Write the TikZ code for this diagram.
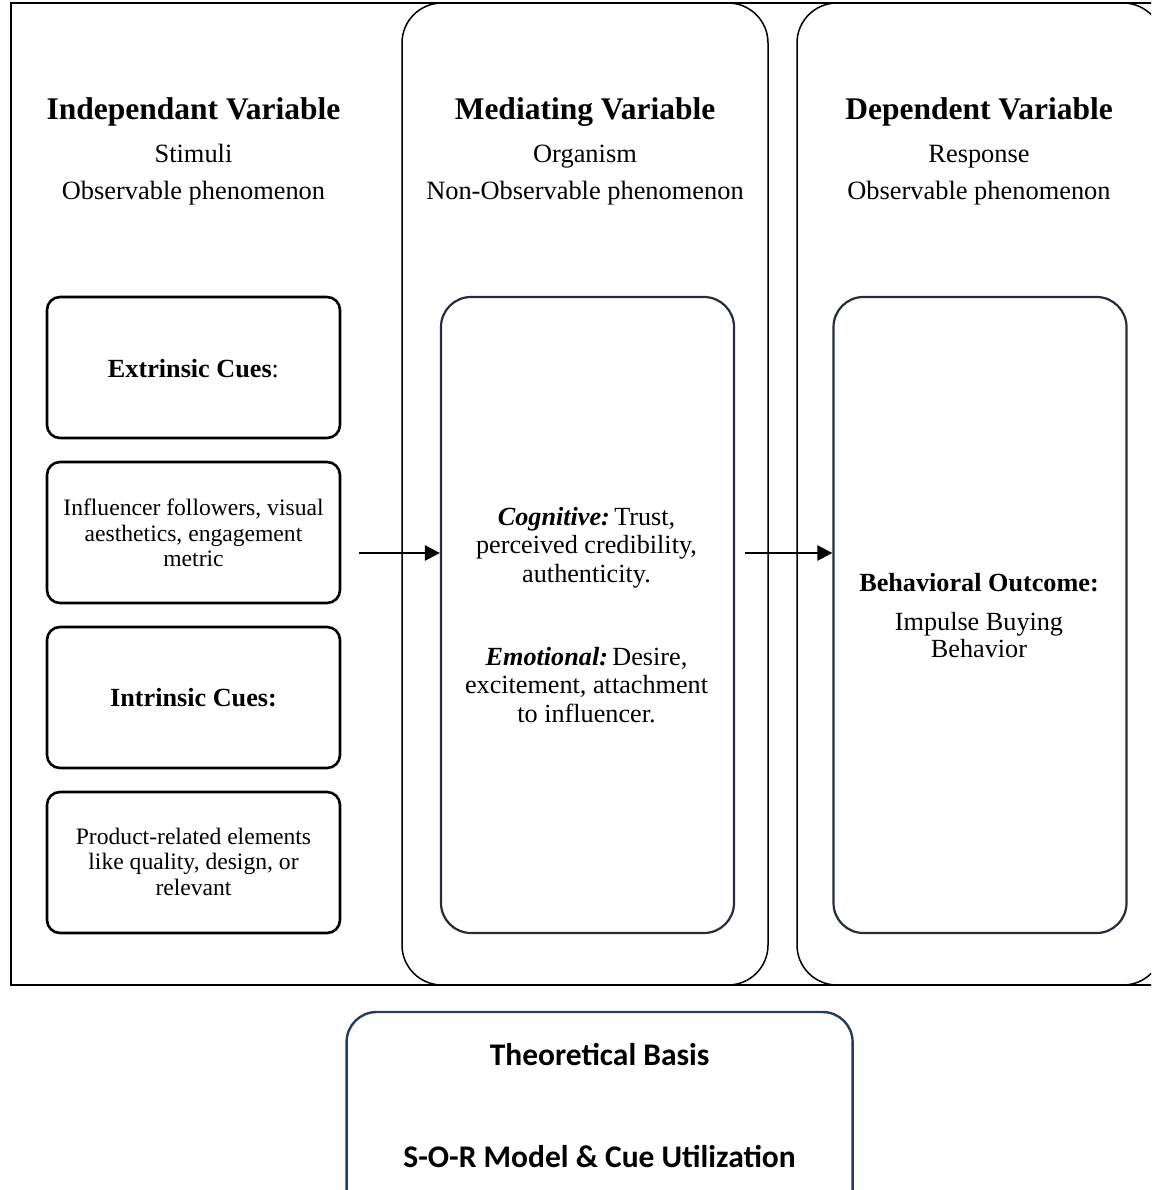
\documentclass[tikz,border=0pt]{standalone}
\usepackage{fontspec}
\setmainfont{Liberation Serif}
\newfontfamily\calibfont{Carlito}
\usetikzlibrary{arrows.meta}
\definecolor{boxgray}{HTML}{262D37}
\definecolor{navyline}{HTML}{253C5E}
\begin{document}
\begin{tikzpicture}[x=1pt,y=-1pt,
  framebox/.style={draw=black, line width=1.8pt, rectangle, inner sep=0pt, minimum width=1170pt, minimum height=982pt},
  colbox/.style={draw=black, line width=1.5pt, rectangle, rounded corners=40pt, inner sep=0pt, minimum width=366pt, minimum height=982pt},
  bigbox/.style={draw=boxgray, line width=2.2pt, rectangle, rounded corners=30pt, inner sep=0pt, minimum width=293pt, minimum height=636pt},
  cuebox/.style={draw=black, line width=2.6pt, rectangle, rounded corners=13pt, inner sep=0pt, minimum width=293pt, minimum height=141pt},
  basisbox/.style={draw=navyline, line width=2.4pt, rectangle, rounded corners=30pt, inner sep=0pt, minimum width=506pt, minimum height=230pt},
  ttl/.style={font=\fontsize{31.5}{36}\selectfont\bfseries, anchor=base, inner sep=0pt},
  sub/.style={font=\fontsize{26.4}{30}\selectfont, anchor=base, inner sep=0pt},
  cue/.style={font=\fontsize{26.2}{30}\selectfont, anchor=base, inner sep=0pt},
  body/.style={font=\fontsize{23.6}{27}\selectfont, anchor=base, inner sep=0pt},
  mtxt/.style={font=\fontsize{26.2}{30}\selectfont, anchor=base, inner sep=0pt},
  basis/.style={font=\calibfont\fontsize{31.5}{36}\selectfont\bfseries, anchor=base, inner sep=0pt},
  flow/.style={line width=2.5pt, -{Triangle[length=15pt,width=15pt]}}
]
\useasboundingbox (0,0) rectangle (1151,1190);
\clip (0,0) rectangle (1151,1190);

% frame and columns
\node[framebox] (frame) at (596,494) {};
\node[colbox] (midcol) at (585,494) {};
\node[colbox] (rescol) at (980,494) {};

% inner boxes
\node[bigbox] (mid) at (587.5,615) {};
\node[bigbox] (resp) at (980,615) {};

\node[cuebox] (ext) at (193.5,367.5) {};
\node[cuebox] (extd) at (193.5,532.5) {};
\node[cuebox] (int) at (193.5,697.5) {};
\node[cuebox] (intd) at (193.5,862.5) {};

\node[basisbox] (basisb) at (599.6,1127) {};

% arrows
\coordinate (a1s) at (359,553);
\coordinate (a2s) at (745,553);
\draw[flow] (a1s) -- (mid.west |- a1s);
\draw[flow] (a2s) -- (resp.west |- a2s);

% headers
\node[ttl] (t1) at (193.5,120) {Independant Variable};
\node[sub] (s1a) at (193.5,163) {Stimuli};
\node[sub] (s1b) at (193.5,200) {Observable phenomenon};

\node[ttl] (t2) at (585,120) {Mediating Variable};
\node[sub] (s2a) at (585,163) {Organism};
\node[sub] (s2b) at (585,200) {Non-Observable phenomenon};

\node[ttl] (t3) at (979,120) {Dependent Variable};
\node[sub] (s3a) at (979,163) {Response};
\node[sub] (s3b) at (979,200) {Observable phenomenon};

% left boxes text
\node[cue] (extt) at (193.5,377) {\textbf{Extrinsic Cues}:};
\node[body] (e1) at (193.5,515) {Influencer followers, visual};
\node[body] (e2) at (193.5,541) {aesthetics, engagement};
\node[body] (e3) at (193.5,566) {metric};

\node[cue] (intt) at (193.5,706) {\textbf{Intrinsic Cues:}};
\node[body] (i1) at (193.5,844) {Product-related elements};
\node[body] (i2) at (193.5,869.5) {like quality, design, or};
\node[body] (i3) at (193.5,895) {relevant};

% middle text
\node[mtxt] (m1) at (586.5,525) {\textbf{\textit{Cognitive:}}\,Trust,};
\node[mtxt] (m2) at (586.5,553.5) {perceived credibility,};
\node[mtxt] (m3) at (586.5,582) {authenticity.};
\node[mtxt] (m4) at (586.5,665) {\textbf{\textit{Emotional:}}\,Desire,};
\node[mtxt] (m5) at (586.5,693.5) {excitement, attachment};
\node[mtxt] (m6) at (586.5,722) {to influencer.};

% right text
\node[mtxt] (r1) at (979,591) {\textbf{Behavioral Outcome:}};
\node[mtxt] (r2) at (979,630) {Impulse Buying};
\node[mtxt] (r3) at (979,657) {Behavior};

% basis text
\node[basis] (b1) at (599.6,1065) {Theoretical Basis};
\node[basis] (b2) at (599.6,1167) {S-O-R Model \& Cue Utilization};
\end{tikzpicture}
\end{document}
